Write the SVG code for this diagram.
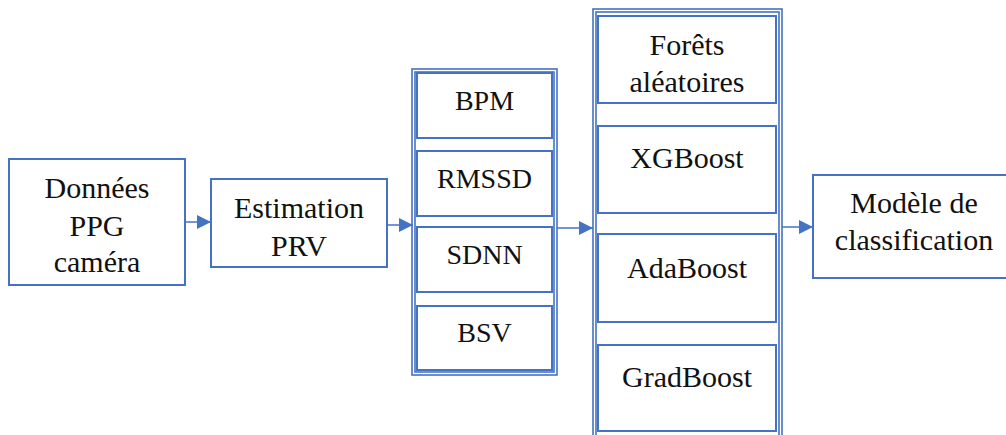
<svg xmlns="http://www.w3.org/2000/svg" width="1006" height="435" viewBox="0 0 1006 435">
<style>
.box{fill:#fff;stroke:#4472C4;stroke-width:2}
.frame{fill:none;stroke:#4472C4;stroke-width:1.6}
.t{fill:#111;text-anchor:middle}
.c{stroke:#4472C4;stroke-width:1.5;fill:none}
</style>
<defs>
<marker id="ah" markerUnits="userSpaceOnUse" markerWidth="14" markerHeight="14" refX="14" refY="7" orient="auto">
<path d="M0,0 L14,7 L0,14 Z" fill="#4472C4"/>
</marker>
</defs>
<rect width="1006" height="435" fill="#fff"/>
<g id="connectors">
<line class="c" x1="185" y1="222" x2="211" y2="222" marker-end="url(#ah)"/>
<line class="c" x1="387" y1="225" x2="413" y2="225" marker-end="url(#ah)"/>
<line class="c" x1="557" y1="228" x2="593" y2="228" marker-end="url(#ah)"/>
<line class="c" x1="782" y1="227" x2="813" y2="227" marker-end="url(#ah)"/>
</g>
<g id="donnees">
<rect class="box" x="9" y="159" width="176" height="126"/>
<text class="t" font-family="Liberation Serif" font-size="30" x="97" y="198">Données</text>
<text class="t" font-family="Liberation Serif" font-size="30" x="97" y="236">PPG</text>
<text class="t" font-family="Liberation Serif" font-size="30" x="97" y="272">caméra</text>
</g>
<g id="estimation">
<rect class="box" x="211" y="179" width="176" height="88"/>
<text class="t" font-family="Liberation Serif" font-size="30" x="299" y="218">Estimation</text>
<text class="t" font-family="Liberation Serif" font-size="30" x="299" y="256">PRV</text>
</g>
<g id="features">
<rect class="frame" x="412" y="69" width="145" height="306"/>
<rect class="frame" x="415" y="72" width="139" height="300"/>
<g id="bpm"><rect class="box" x="417" y="73" width="135" height="65"/><text class="t" font-family="Liberation Serif" font-size="28" x="484.5" y="110">BPM</text></g>
<g id="rmssd"><rect class="box" x="417" y="151" width="135" height="65"/><text class="t" font-family="Liberation Serif" font-size="28" x="484.5" y="188">RMSSD</text></g>
<g id="sdnn"><rect class="box" x="417" y="227" width="135" height="65"/><text class="t" font-family="Liberation Serif" font-size="28" x="484.5" y="264">SDNN</text></g>
<g id="bsv"><rect class="box" x="417" y="306" width="135" height="64"/><text class="t" font-family="Liberation Serif" font-size="28" x="484.5" y="342">BSV</text></g>
</g>
<g id="models">
<rect class="frame" x="593" y="9" width="189" height="432"/>
<rect class="frame" x="596" y="12" width="183" height="426"/>
<g id="forets"><rect class="box" x="598" y="16" width="178" height="87"/><text class="t" font-family="Liberation Serif" font-size="30" x="687" y="55">Forêts</text><text class="t" font-family="Liberation Serif" font-size="30" x="687" y="92">aléatoires</text></g>
<g id="xgboost"><rect class="box" x="598" y="126" width="178" height="87"/><text class="t" font-family="Liberation Serif" font-size="30" x="687" y="168">XGBoost</text></g>
<g id="adaboost"><rect class="box" x="598" y="234" width="178" height="88"/><text class="t" font-family="Liberation Serif" font-size="30" x="687" y="278">AdaBoost</text></g>
<g id="gradboost"><rect class="box" x="598" y="345" width="178" height="86"/><text class="t" font-family="Liberation Serif" font-size="30" x="687" y="387">GradBoost</text></g>
</g>
<g id="modele">
<rect class="box" x="813" y="175" width="210" height="103"/>
<text class="t" font-family="Liberation Serif" font-size="30" x="914" y="213">Modèle de</text>
<text class="t" font-family="Liberation Serif" font-size="30" x="914" y="250">classification</text>
</g>
</svg>
